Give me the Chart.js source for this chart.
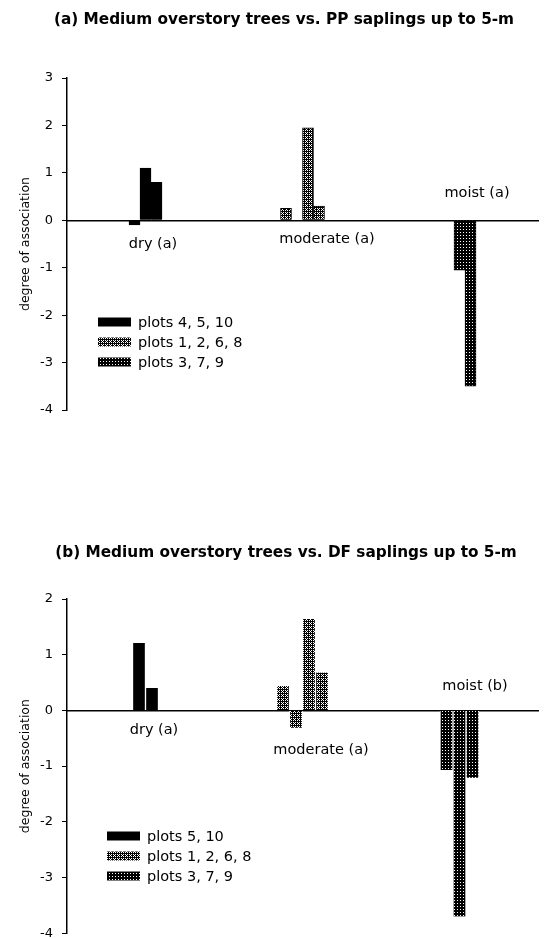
<!DOCTYPE html>
<html>
<head>
<meta charset="utf-8">
<script src="https://cdn.jsdelivr.net/npm/chart.js@4.4.1/dist/chart.umd.min.js"></script>
<style>
  html, body { margin: 0; padding: 0; background: #fff; overflow: hidden; }
  canvas { display: block; }
</style>
</head>
<body>
<canvas id="chartA" width="551" height="470"></canvas>
<canvas id="chartB" width="551" height="480"></canvas>
<script>
// site moisture classes (x axis)
const sites = ["dry", "moderate", "moist"];

// (a) medium overstory vs PP saplings
const titleA = "(a) Medium overstory trees vs. PP saplings up to 5-m";
const siteLabelsA = ["dry (a)", "moderate (a)", "moist (a)"];
const legendA = ["plots 4, 5, 10", "plots 1, 2, 6, 8", "plots 3, 7, 9"];
const dryA = [-0.1, 1.1, 0.8];
const moderateA = [0.25, 0, 1.95, 0.3];
const moistA = [0, -1.05, -3.5];
const yRangeA = [-4, 3];

// (b) medium overstory vs DF saplings
const titleB = "(b) Medium overstory trees vs. DF saplings up to 5-m";
const siteLabelsB = ["dry (a)", "moderate (a)", "moist (b)"];
const legendB = ["plots 5, 10", "plots 1, 2, 6, 8", "plots 3, 7, 9"];
const dryB = [1.21, 0.4];
const moderateB = [0.44, -0.31, 1.64, 0.68];
const moistB = [-1.07, -3.7, -1.21];
const yRangeB = [-4, 2];

const FONT = '"DejaVu Sans", Verdana, sans-serif';
Chart.defaults.font.family = FONT;
Chart.defaults.color = "#000";

// black tile with white pixels punched in
function makePattern(w, h, holes) {
  const c = document.createElement("canvas");
  c.width = w;
  c.height = h;
  const g = c.getContext("2d");
  g.fillStyle = "#000";
  g.fillRect(0, 0, w, h);
  g.fillStyle = "#fff";
  holes.forEach(([x, y]) => g.fillRect(x, y, 1, 1));
  return g.createPattern(c, "repeat");
}

const solid = "#000";
const hatch = makePattern(4, 4, [[3, 0], [2, 1], [1, 2], [1, 0], [3, 2]]);
const dots = makePattern(3, 3, [[1, 1]]);
const fills = [solid, hatch, dots];

// one dataset per bar slot, empty slots are null so skipNull packs each group
function buildDatasets(groups, barOpts) {
  const slots = Math.max(...groups.map((g) => g.length));
  const out = [];
  for (let i = 0; i < slots; i++) {
    out.push({
      data: groups.map((g) => (i < g.length ? g[i] : null)),
      backgroundColor: fills,
      ...barOpts,
    });
  }
  return out;
}

// title, site labels and legend drawn straight on the canvas
const notes = {
  id: "notes",
  afterDraw(chart, args, opts) {
    const ctx = chart.ctx;
    const xs = chart.scales.x;
    const zero = chart.scales.y.getPixelForValue(0);
    ctx.save();
    ctx.fillStyle = "#000";
    ctx.textAlign = "center";
    ctx.textBaseline = "middle";
    ctx.font = "bold 15.3px " + FONT;
    ctx.fillText(opts.title, opts.titleX, opts.titleY);

    ctx.font = "14.5px " + FONT;
    opts.labels.forEach((text, i) => {
      const [dx, dy] = opts.labelOffsets[i];
      ctx.fillText(text, xs.getPixelForValue(i) + dx, zero + dy);
    });

    ctx.textAlign = "left";
    opts.legend.forEach((text, i) => {
      const cy = opts.legendY + i * 20;
      ctx.fillStyle = fills[i];
      ctx.fillRect(opts.legendX, cy - 4.5, 33, 9);
      ctx.fillStyle = "#000";
      ctx.fillText(text, opts.legendX + 40, cy + 1);
    });
    ctx.restore();
  },
};

function makeChart(id, groups, range, barOpts, padding, noteOpts) {
  return new Chart(document.getElementById(id), {
    type: "bar",
    data: {
      labels: sites,
      datasets: buildDatasets(groups, barOpts),
    },
    options: {
      responsive: false,
      animation: false,
      skipNull: true,
      layout: { padding: padding },
      plugins: {
        legend: { display: false },
        tooltip: { enabled: false },
        notes: noteOpts,
      },
      scales: {
        x: {
          type: "category",
          position: { y: 0 },
          grid: { display: false },
          ticks: { display: false },
          border: { color: "#000", width: 1.5 },
        },
        y: {
          min: range[0],
          max: range[1],
          ticks: { stepSize: 1, padding: 9, font: { size: 13 } },
          grid: {
            drawOnChartArea: false,
            drawTicks: true,
            tickLength: 5,
            color: "#000",
          },
          border: { color: "#000", width: 1.5 },
          title: {
            display: true,
            text: "degree of association",
            font: { size: 12.5 },
            padding: { top: 18, bottom: 0 },
          },
          afterFit(scale) {
            scale.width = 67;
          },
        },
      },
    },
    plugins: [notes],
  });
}

makeChart(
  "chartA",
  [dryA, moderateA, moistA],
  yRangeA,
  { barThickness: 11, borderColor: "#000", borderWidth: 1 },
  { top: 78, bottom: 60, left: 0, right: 13 },
  {
    title: titleA,
    titleX: 284,
    titleY: 20,
    labels: siteLabelsA,
    labelOffsets: [[7.5, 24], [24.5, 19], [17.5, -27]],
    legend: legendA,
    legendX: 98,
    legendY: 322,
  }
);

makeChart(
  "chartB",
  [dryB, moderateB, moistB],
  yRangeB,
  {
    barThickness: 13,
    borderColor: "#fff",
    borderWidth: { left: 1, right: 1, top: 0, bottom: 0 },
  },
  { top: 129, bottom: 13.5, left: 0, right: 13 },
  {
    title: titleB,
    titleX: 286,
    titleY: 83,
    labels: siteLabelsB,
    labelOffsets: [[8.5, 19.5], [18.5, 40], [15.5, -24]],
    legend: legendB,
    legendX: 107,
    legendY: 366,
  }
);
</script>
</body>
</html>
